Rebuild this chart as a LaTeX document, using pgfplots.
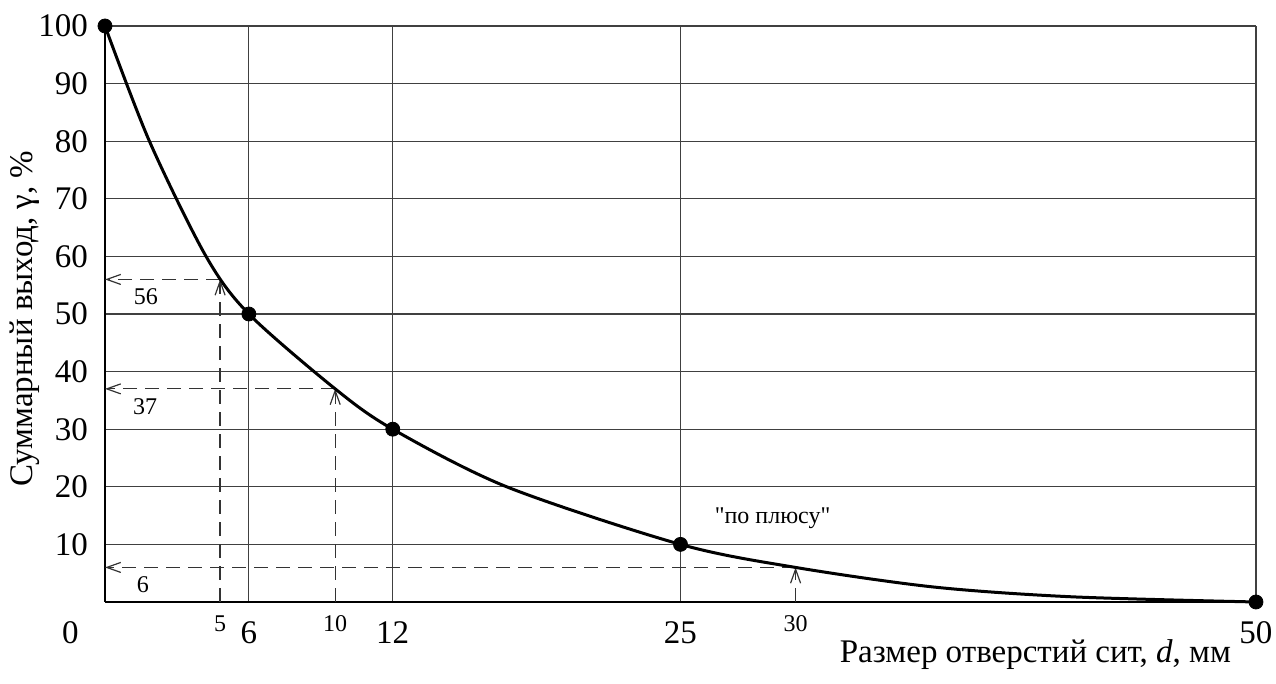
\documentclass[border=0pt]{standalone}
\usepackage{fontspec}
\setmainfont{Liberation Serif}
\usepackage{pgfplots}
\pgfplotsset{compat=1.18}
\usetikzlibrary{arrows.meta}
\newcommand{\bigf}{\fontsize{16.5}{18}\selectfont}
\newcommand{\smallf}{\fontsize{12}{14}\selectfont}
\begin{document}
\begin{tikzpicture}
\path[use as bounding box] (-52.5pt,-41pt) rectangle (585.5pt,301pt);
\begin{axis}[
  scale only axis, width=575.5pt, height=288pt,
  at={(0,0)}, anchor=south west,
  xmin=0, xmax=50, ymin=0, ymax=100,
  axis lines=left,
  axis line style={line width=1.3pt, -},
  xtick={6.25,12.5,25,50}, xticklabels={},
  ytick={10,20,...,100},
  major tick length=0pt,
  grid=major,
  grid style={line width=0.6pt, black!75},
  yticklabel style={font=\bigf, xshift=-5pt},
  /pgf/number format/assume math mode=true,
  clip=false,
]
% dashed constructions
\pgfplotsset{dsh/.style={black!80, line width=0.6pt, dash pattern=on 7pt off 4pt}}
\addplot[dsh, -{Straight Barb[length=7pt,width=5pt]}] coordinates {(5,0) (5,56)};
\addplot[dsh, -{Straight Barb[length=7pt,width=5pt]}] coordinates {(5,56) (0,56)};
\addplot[dsh, -{Straight Barb[length=7pt,width=5pt]}] coordinates {(10,0) (10,37)};
\addplot[dsh, -{Straight Barb[length=7pt,width=5pt]}] coordinates {(10,37) (0,37)};
\addplot[dsh, -{Straight Barb[length=7pt,width=5pt]}] coordinates {(30,0) (30,6)};
\addplot[dsh, -{Straight Barb[length=7pt,width=5pt]}] coordinates {(30,6) (0,6)};
% curve
\addplot[black, line width=1.5pt, smooth, no marks] coordinates {
 (0,100) (1.93,80) (4.39,60) (6.25,50) (10,37)
 (12.5,30) (17.45,20) (25,10) (30,6) (36,2.6) (42,0.9) (50,0)};
% marked points
\addplot[only marks, mark=*, mark size=3.5pt, black] coordinates {
 (0,100) (6.25,50) (12.5,30) (25,10) (50,0)};
% x tick labels
\node[font=\bigf] at (axis cs:-1.5,0) [yshift=-15.5pt] {0};
\node[font=\bigf] at (axis cs:6.25,0) [yshift=-15.5pt] {6};
\node[font=\bigf] at (axis cs:12.5,0) [yshift=-15.5pt] {12};
\node[font=\bigf] at (axis cs:25,0) [yshift=-15.5pt] {25};
\node[font=\bigf] at (axis cs:50,0) [yshift=-15.5pt] {50};
\node[font=\smallf] at (axis cs:5,0) [yshift=-11pt] {5};
\node[font=\smallf] at (axis cs:10,0) [yshift=-11pt] {10};
\node[font=\smallf] at (axis cs:30,0) [yshift=-11pt] {30};
% value labels
\node[font=\smallf] at (axis cs:1.78,53) {56};
\node[font=\smallf] at (axis cs:1.74,33.9) {37};
\node[font=\smallf] at (axis cs:1.65,3) {6};
\node[font=\smallf] at (axis cs:29,14.6) {\textquotedbl по плюсу\textquotedbl};
% axis labels
\node[font=\bigf, anchor=east] at ([xshift=-9pt, yshift=-26.5pt]rel axis cs:1,0) {Размер отверстий сит, \textit{d}, мм};
\node[font=\bigf, rotate=90] at ([xshift=-40pt]rel axis cs:0,0.492) {Суммарный выход, γ, \%};
\end{axis}
\end{tikzpicture}
\end{document}
